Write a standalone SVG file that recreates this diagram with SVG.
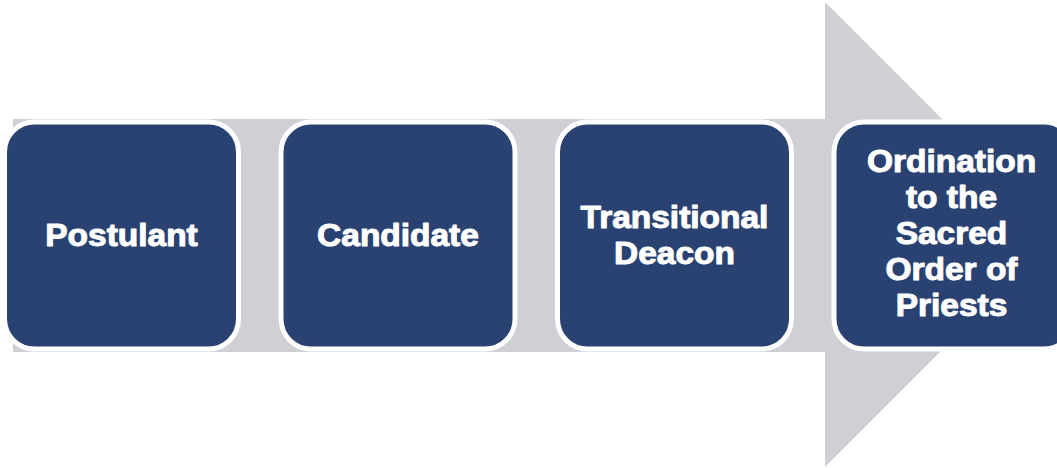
<svg xmlns="http://www.w3.org/2000/svg" width="1057" height="468" viewBox="0 0 1057 468">
<style>
.box{fill:#2A4271;stroke:#FFFFFF;stroke-width:5}
.lbl{font-family:"Liberation Sans",Arial,sans-serif;font-weight:bold;font-size:31px;fill:#FFFFFF;stroke:#FFFFFF;stroke-width:1;stroke-linejoin:round;text-anchor:middle}
</style>
<rect width="1057" height="468" fill="#FFFFFF"/>
<g id="arrow">
<polygon points="13,119 825,119 825,2 1057.5,234.5 825,467 825,352 13,352" fill="#CFD0D5"/>
</g>
<g id="connectors"></g>
<g id="node-postulant">
<rect class="box" x="4.5" y="122" width="234" height="227" rx="30"/>
<g transform="translate(121.5,0) scale(1.08,1)"><text class="lbl" x="0" y="246">Postulant</text></g>
</g>
<g id="node-candidate">
<rect class="box" x="281" y="122" width="234" height="227" rx="30"/>
<g transform="translate(398,0) scale(1.08,1)"><text class="lbl" x="0" y="246">Candidate</text></g>
</g>
<g id="node-transitional-deacon">
<rect class="box" x="557.5" y="122" width="234" height="227" rx="30"/>
<g transform="translate(674.5,0) scale(1.08,1)"><text class="lbl" x="0" y="228">Transitional</text><text class="lbl" x="0" y="264">Deacon</text></g>
</g>
<g id="node-ordination">
<rect class="box" x="834" y="122" width="240" height="227" rx="30"/>
<g transform="translate(951.5,0) scale(1.08,1)"><text class="lbl" x="0" y="172">Ordination</text><text class="lbl" x="0" y="208">to the</text><text class="lbl" x="0" y="244">Sacred</text><text class="lbl" x="0" y="280">Order of</text><text class="lbl" x="0" y="316">Priests</text></g>
</g>
</svg>
